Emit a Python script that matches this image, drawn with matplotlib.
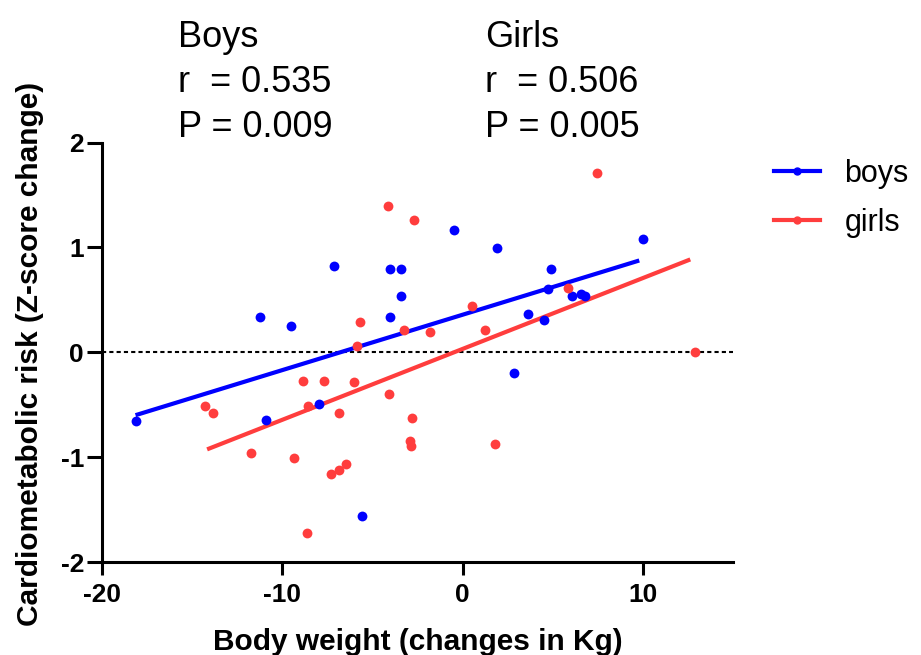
import numpy as np
import matplotlib
matplotlib.use("Agg")
import matplotlib.pyplot as plt
from matplotlib.lines import Line2D

plt.rcParams['font.family'] = ['Liberation Sans', 'DejaVu Sans']
plt.rcParams['axes.unicode_minus'] = False

# Data
boys_x = [-11.24, -9.52, -7.12, -4.05, -3.41, -3.41, -4.05, -0.48, 1.89, 10.0,
          4.9, 4.75, 3.63, 4.52, 6.08, 6.55, 6.8, 2.86, -18.14, -10.92, -7.94, -5.58]
boys_y = [0.333, 0.247, 0.818, 0.79, 0.79, 0.54, 0.337, 1.163, 0.993, 1.08,
          0.79, 0.60, 0.36, 0.31, 0.54, 0.56, 0.54, -0.20, -0.66, -0.646, -0.496, -1.56]

girls_x = [-4.16, -2.67, -5.71, 0.54, 1.22, -1.82, -3.23, -5.83, 7.44, 5.86,
           12.9, -14.3, -13.84, -11.74, -9.33, -8.87, -8.55, -8.64, -7.66, -6.0,
           -6.88, -4.08, -2.8, -2.89, -2.86, -7.31, -6.83, -6.46, 1.8]
girls_y = [1.39, 1.26, 0.285, 0.44, 0.21, 0.19, 0.21, 0.056, 1.705, 0.61,
           0.0, -0.51, -0.576, -0.965, -1.01, -0.27, -0.51, -1.72, -0.27, -0.282,
           -0.576, -0.397, -0.624, -0.844, -0.89, -1.163, -1.124, -1.07, -0.876]

# Regression lines as drawn in the reference (end points)
boys_fit_x = [-18.14, 9.8]
boys_fit_y = [-0.60, 0.875]
girls_fit_x = [-14.17, 12.63]
girls_fit_y = [-0.926, 0.885]

x_ticks = [-20, -10, 0, 10]
y_ticks = [-2, -1, 0, 1, 2]

BLUE = '#0000ff'
RED = '#ff3d3d'

fig = plt.figure(figsize=(9.21, 6.55), dpi=100)
ax = fig.add_axes([102/921, 1-562/655, (733-102)/921, (562-142.5)/655])

ax.axhline(0, color='black', linestyle=(0, (2, 1.5)), linewidth=1.5, zorder=1)

for xs, ys, fx, fy, c in [(boys_x, boys_y, boys_fit_x, boys_fit_y, BLUE),
                          (girls_x, girls_y, girls_fit_x, girls_fit_y, RED)]:
    ax.scatter(xs, ys, s=50, color=c, zorder=3, linewidths=0)
    ax.plot(fx, fy, color=c, linewidth=3, zorder=2, solid_capstyle='butt')

ax.set_xlim(-20, 15)
ax.set_ylim(-2, 2)
ax.set_xticks(x_ticks)
ax.set_yticks(y_ticks)
for s in ['top', 'right']:
    ax.spines[s].set_visible(False)
for s in ['left', 'bottom']:
    ax.spines[s].set_linewidth(2.2)
ax.tick_params(axis='x', direction='out', length=9, width=2.2, labelsize=19, pad=6)
ax.tick_params(axis='y', direction='out', length=11, width=2.2, labelsize=19, pad=2)
for lbl in ax.get_xticklabels() + ax.get_yticklabels():
    lbl.set_fontweight('bold')

ax.set_xlabel('Body weight (changes in Kg)', fontsize=21.5, fontweight='bold', va='baseline')
ax.xaxis.set_label_coords(0.5, (562-650)/419.5)
ax.set_ylabel('Cardiometabolic risk (Z-score change)', fontsize=21.5, fontweight='bold')
ax.yaxis.set_label_coords((44-102)/631, 0.496)

# Annotation text
fs = 26
for xpx, lines in [(178, ['Boys', 'r  = 0.535', 'P = 0.009']), (485, ['Girls', 'r  = 0.506', 'P = 0.005'])]:
    for i, t in enumerate(lines):
        fig.text(xpx/921, 1-(47+45*i)/655, t, fontsize=fs, va='baseline', ha='left')

handles = [Line2D([], [], color=BLUE, lw=3, marker='o', markersize=5),
           Line2D([], [], color=RED, lw=3, marker='o', markersize=5)]
fig.legend(handles, ['boys', 'girls'], loc='upper left', bbox_to_anchor=(774/921, 1-159/655),
           frameon=False, fontsize=22, handlelength=1.5, handletextpad=0.8, labelspacing=0.62,
           borderaxespad=0, borderpad=0)

fig.savefig('out.png', dpi=100)
